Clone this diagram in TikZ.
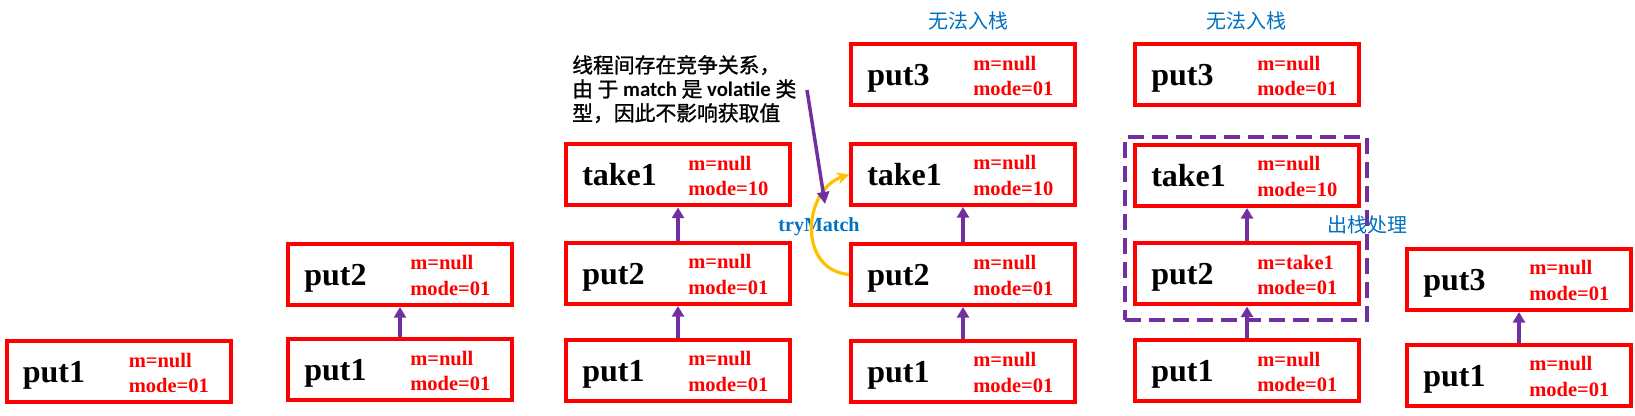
\documentclass[tikz,border=0pt]{standalone}
\usepackage{fontspec}
\setmainfont{Liberation Serif}
\newfontfamily\cjk{Noto Sans CJK SC}
\newfontfamily\cjknote{Noto Sans CJK SC}[FakeBold=1.2]
\newfontfamily\calfont{Carlito}
\usetikzlibrary{arrows.meta}
\definecolor{boxred}{RGB}{255,0,0}
\definecolor{arrowpurple}{RGB}{112,48,160}
\definecolor{curveyellow}{RGB}{255,192,0}
\definecolor{noteblue}{RGB}{0,112,192}
\tikzset{
  stackbox/.style={draw=boxred, line width=3pt, minimum width=168pt, minimum height=45.75pt, inner sep=0pt},
  bigname/.style={font=\fontsize{24}{24}\selectfont\bfseries, anchor=base west, inner sep=0pt},
  fieldtxt/.style={font=\fontsize{15.4}{15.4}\selectfont\bfseries, text=boxred, anchor=base west, inner sep=0pt},
  link/.style={draw=arrowpurple, line width=2.4pt, -{Triangle[length=8pt,width=9pt]}},
  bluelabel/.style={font=\cjk\fontsize{15}{15}\selectfont, text=noteblue, inner sep=0pt},
  notetxt/.style={font=\cjknote\fontsize{15.6}{18}\selectfont, align=left, inner sep=0pt, anchor=north west},
  groupbox/.style={draw=arrowpurple, line width=3pt, dash pattern=on 12pt off 6pt, minimum width=181.5pt, minimum height=137.25pt, inner sep=0pt},
}
\newcommand\mkbox[6]{%
  \node[stackbox] (#1) at (#2,#3) {};
  \node[bigname] (#1-n) at ([xshift=-72pt,yshift=-7.9pt]#1.center) {#4};
  \node[fieldtxt] (#1-m) at ([xshift=7.5pt,yshift=3.4pt]#1.center) {m=#5};
  \node[fieldtxt] (#1-d) at ([xshift=7.5pt,yshift=-15.4pt]#1.center) {mode=#6};
}
\begin{document}
\begin{tikzpicture}[x=0.75pt,y=-0.75pt]
\useasboundingbox (0,0) rectangle (1635,416);
% group box
\node[groupbox] (grp) at (1246,228.5) {};
% column 1
\mkbox{c1p1}{118.5}{372}{put1}{null}{01}
% column 2
\mkbox{c2p2}{400}{274.5}{put2}{null}{01}
\mkbox{c2p1}{400}{370}{put1}{null}{01}
% column 3
\mkbox{c3t}{678}{175}{take1}{null}{10}
\mkbox{c3p2}{678}{273.5}{put2}{null}{01}
\mkbox{c3p1}{678}{370.5}{put1}{null}{01}
% column 4
\mkbox{c4p3}{963}{75}{put3}{null}{01}
\mkbox{c4t}{963}{174.5}{take1}{null}{10}
\mkbox{c4p2}{963}{274.5}{put2}{null}{01}
\mkbox{c4p1}{963}{371.5}{put1}{null}{01}
% column 5
\mkbox{c5p3}{1247}{75}{put3}{null}{01}
\mkbox{c5t}{1247}{175.5}{take1}{null}{10}
\mkbox{c5p2}{1247}{274}{put2}{take1}{01}
\mkbox{c5p1}{1247}{371}{put1}{null}{01}
% column 6
\mkbox{c6p3}{1519}{279.5}{put3}{null}{01}
\mkbox{c6p1}{1519}{375.5}{put1}{null}{01}
% stack links
\draw[link] (c2p1) -- (c2p2);
\draw[link] (c3p1) -- (c3p2);
\draw[link] (c3p2) -- (c3t);
\draw[link] (c4p1) -- (c4p2);
\draw[link] (c4p2) -- (c4t);
\draw[link] (c5p1) -- (c5p2);
\draw[link] (c5p2) -- (c5t);
\draw[link] (c6p1) -- (c6p3);
% labels
\node[bluelabel] (lab4) at (968,21) {无法入栈};
\node[bluelabel] (lab5) at (1246,21) {无法入栈};
\node[bluelabel] (lab6) at (1367,225) {出栈处理};
\node[font=\fontsize{15}{15}\selectfont\bfseries, text=noteblue, inner sep=0pt] (trym) at (819,227) {tryMatch};
% note
\node[notetxt] (note) at (572,55) {线程间存在竞争关系，\\由 于 {\calfont\bfseries match} 是 {\calfont\bfseries volatile} 类\\型，因此不影响获取值};
\coordinate (noteTail) at (807,90);
\coordinate (noteTip) at (825,204);
% tryMatch curve
\draw[draw=curveyellow, line width=2.4pt, -{Stealth[length=9pt,width=9pt]}] (c4p2.west) .. controls (797,270) and (803,190) .. (c4t.west);
\draw[draw=arrowpurple, line width=2.6pt, -{Triangle[length=9pt,width=9pt]}] (noteTail) -- (noteTip);
\end{tikzpicture}
\end{document}
